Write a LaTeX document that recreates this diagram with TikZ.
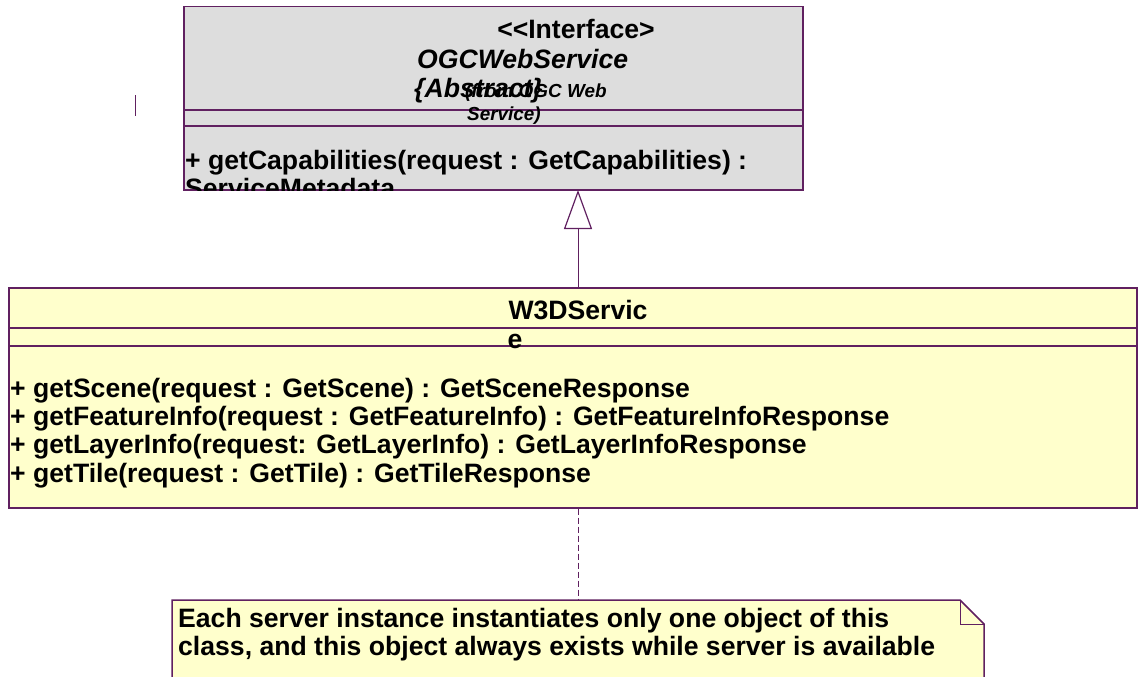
\documentclass[tikz,border=0pt]{standalone}
\usepackage{fontspec}
\setmainfont{Liberation Sans}
\usetikzlibrary{arrows.meta,positioning,calc}
\definecolor{umlline}{RGB}{96,32,96}
\definecolor{ifacegray}{RGB}{221,221,221}
\definecolor{classyellow}{RGB}{255,255,204}
\tikzset{
classbox/.style = {draw=umlline, line width=1.5pt, rectangle, anchor=north west, inner sep=0pt},
sep/.style      = {draw=umlline, line width=1.2pt},
txt/.style      = {font=\bfseries\fontsize{26.6}{28}\selectfont, inner sep=0pt, text height=19pt, text depth=5pt},
optxt/.style    = {txt, anchor=west},
ittxt/.style    = {txt, font=\bfseries\itshape\fontsize{26.6}{28}\selectfont, anchor=west},
smalltxt/.style = {font=\bfseries\itshape\fontsize{18.9}{20}\selectfont, inner sep=0pt, anchor=west},
gen/.style      = {draw=umlline, line width=1pt, -{Triangle[open, length=39pt, width=28pt, line width=1.2pt]}},
anchorline/.style = {draw=umlline, line width=0.8pt, dash pattern=on 6pt off 3pt}
}

\begin{document}
\begin{tikzpicture}[x=1pt, y=-1pt]
  \useasboundingbox (0,0) rectangle (1138,677);

  % interface class
  \node [classbox, fill=ifacegray, minimum width=619pt, minimum height=183pt] (iface) at (183,6) {};
  \draw [sep] (iface.west |- 0,110) -- (iface.east |- 0,110);
  \draw [sep] (iface.west |- 0,126) -- (iface.east |- 0,126);
  \node [txt]              (stereo)   at (576,32)  {<\kern0pt<Interface>};
  \node [ittxt]            (ifname)   at (417,62)  {OGCWebService};
  \node [ittxt]            (abstract) at (414,91)  {\{Abstract\}};
  \node [smalltxt]         (from1)    at (465,93)  {(from OGC Web};
  \node [smalltxt]         (from2)    at (467,116) {Service)};
  \begin{scope}
    \clip (iface.north west) rectangle (iface.south east);
    \node [optxt]          (getcap)   at (185,162) {+ getCapabilities(request : GetCapabilities) :};
    \node [optxt, below=4pt of getcap.south west, anchor=north west] (getcap2) {ServiceMetadata};
  \end{scope}
  \draw [umlline] (135,95) -- (135,116);

  % W3DService class
  \node [classbox, fill=classyellow, minimum width=1128pt, minimum height=220pt] (w3d) at (8,287) {};
  \draw [sep] (w3d.west |- 0,328) -- (w3d.east |- 0,328);
  \draw [sep] (w3d.west |- 0,346) -- (w3d.east |- 0,346);
  \node [txt]              (w3dname)  at (578,312) {W3DServic};
  \node [txt]              (w3dname2) at (515,341) {e};
  \node [optxt]            (op1)      at (10,390) {+ getScene(request : GetScene) : GetSceneResponse};
  \node [optxt, below=4pt of op1.south west, anchor=north west] (op2) {+ getFeatureInfo(request : GetFeatureInfo) : GetFeatureInfoResponse};
  \node [optxt, below=4pt of op2.south west, anchor=north west] (op3) {+ getLayerInfo(request: GetLayerInfo) : GetLayerInfoResponse};
  \node [optxt, below=4pt of op3.south west, anchor=north west] (op4) {+ getTile(request : GetTile) : GetTileResponse};

  % realization
  \coordinate (apex) at (578,190);
  \draw [gen] (apex |- w3d.north) -- (apex);

  % note
  \coordinate (note) at (172,600);
  \filldraw [draw=umlline, fill=classyellow, line width=1.5pt]
    (note) -- ++(788,0) -- ++(24,24) -- ++(0,70) -- ++(-812,0) -- cycle;
  \draw [umlline, line width=1pt] ($(note)+(788,0)$) -- ++(0,24) -- ++(24,0);
  \node [optxt] (notetxt1) at (178,620) {Each server instance instantiates only one object of this};
  \node [optxt, below=4pt of notetxt1.south west, anchor=north west] (notetxt2) {class, and this object always exists while server is available};
  \draw [anchorline] (apex |- w3d.south) -- (apex |- note);
\end{tikzpicture}
\end{document}
